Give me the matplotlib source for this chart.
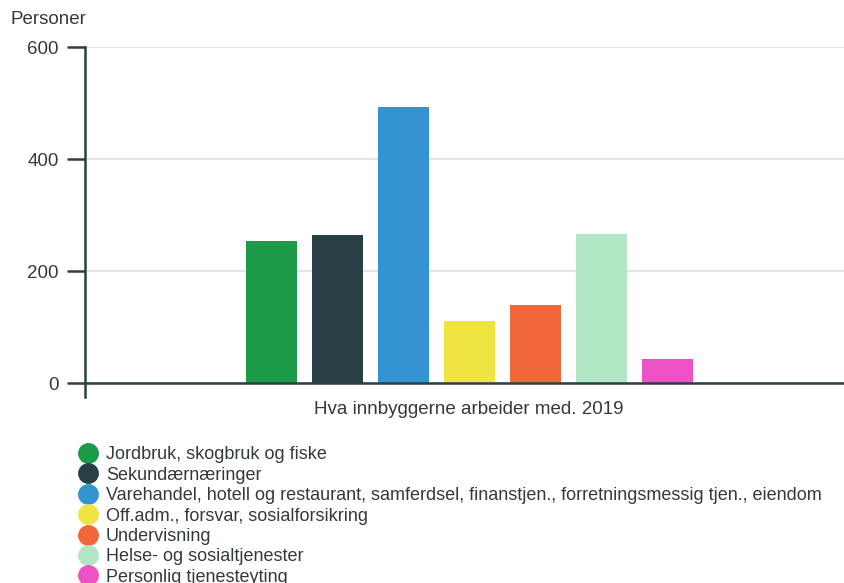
import matplotlib.pyplot as plt
from matplotlib.lines import Line2D

# Data
categories = [
    "Jordbruk, skogbruk og fiske",
    "Sekundærnæringer",
    "Varehandel, hotell og restaurant, samferdsel, finanstjen., forretningsmessig tjen., eiendom",
    "Off.adm., forsvar, sosialforsikring",
    "Undervisning",
    "Helse- og sosialtjenester",
    "Personlig tjenesteyting",
]
values = [253, 264, 492, 111, 140, 266, 42]
colors = ["#1c9a48", "#273f45", "#3494d1", "#f0e443", "#f26739", "#b1e7c4", "#ec52c6"]
yticks = [0, 200, 400, 600]

TXT = "#333a3d"
AX = "#2a4047"

plt.rcParams["font.family"] = ["Liberation Sans", "DejaVu Sans"]

fig = plt.figure(figsize=(8.44, 5.83), dpi=100)
ax = fig.add_axes([85 / 844, 1 - 383 / 583, (844 - 85) / 844, (383 - 47) / 583])

x = list(range(len(values)))
ax.bar(x, values, width=0.773, color=colors, zorder=2)

ax.set_ylim(0, 600)
ax.set_xlim(-2.83, 8.68)
ax.set_yticks(yticks)
ax.set_yticklabels([str(v) for v in yticks], fontsize=13.5, color=TXT)
ax.tick_params(axis="y", length=13, width=1.8, color=AX, pad=6)
ax.set_xticks([])
ax.grid(axis="y", color="#e6e6e6", linewidth=1.5, zorder=0)
ax.set_axisbelow(True)

for s in ["top", "right"]:
    ax.spines[s].set_visible(False)
ax.spines["left"].set_color(AX)
ax.spines["left"].set_linewidth(1.8)
ax.spines["left"].set_bounds(-25, 600)
ax.spines["left"].set_zorder(3)
ax.spines["bottom"].set_color(AX)
ax.spines["bottom"].set_linewidth(1.8)
ax.spines["bottom"].set_zorder(3)

fig.text(10 / 844, 1 - 20 / 583, "Personer", fontsize=13.5, color=TXT, va="center", ha="left")
fig.text(469 / 844, 1 - 409 / 583, "Hva innbyggerne arbeider med. 2019",
         fontsize=13.5, color=TXT, va="center", ha="center")

handles = [Line2D([0], [0], marker="o", linestyle="", markersize=14,
                  markerfacecolor=c, markeredgecolor=c) for c in colors]
leg = fig.legend(handles, categories, loc="upper left",
                 bbox_to_anchor=(70 / 844, 1 - 439 / 583),
                 frameon=False, fontsize=13, labelspacing=0.19,
                 handletextpad=0.4, handlelength=1.2, borderaxespad=0)
for t in leg.get_texts():
    t.set_color(TXT)

fig.savefig("out.png", dpi=100)
